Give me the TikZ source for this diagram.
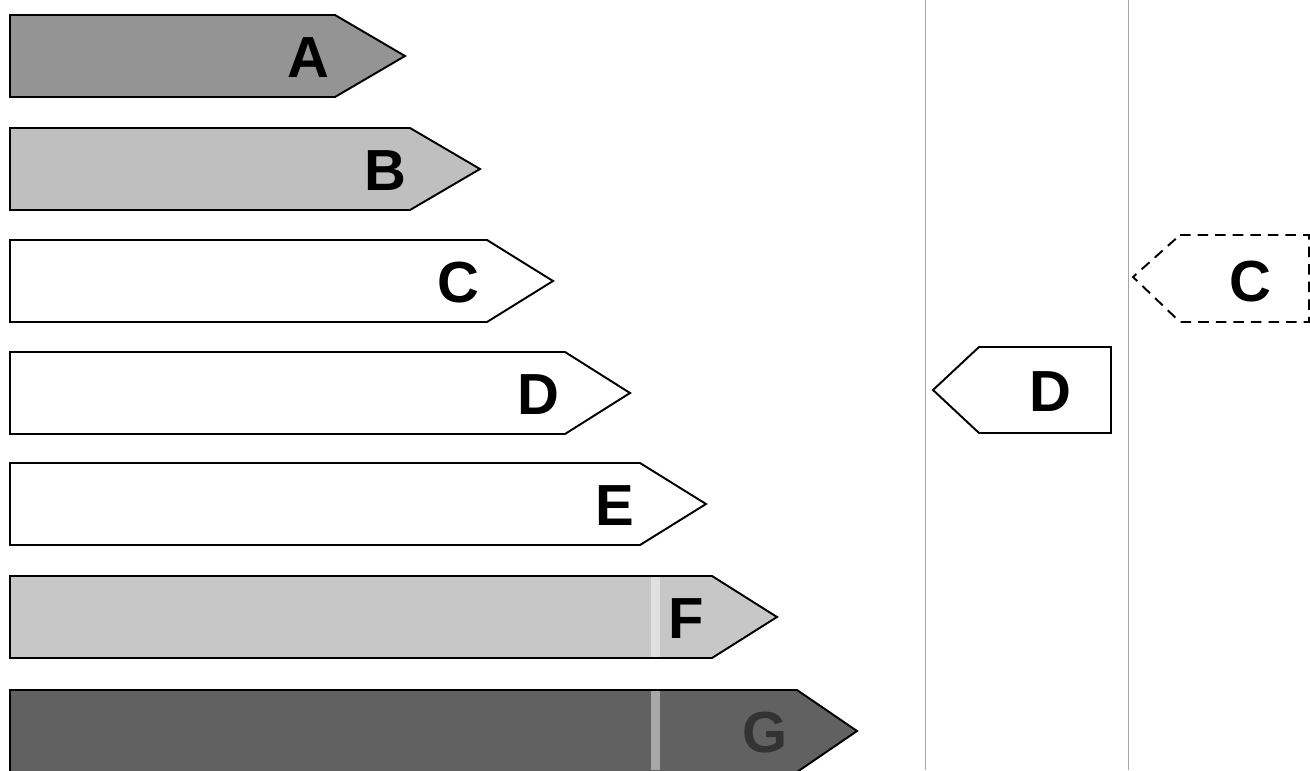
\documentclass[tikz,border=0pt]{standalone}
\usepackage{fontspec}
\setmainfont{Liberation Sans}
\begin{document}
\begin{tikzpicture}[x=0.02cm,y=-0.02cm,
  bar/.style={draw=black,line width=1.1pt,line join=miter},
  lettr/.style={font=\fontsize{33}{36}\selectfont\bfseries,inner sep=0pt,anchor=center},
  vline/.style={draw=black!35,line width=0.5pt},
  stripe/.style={fill=white,fill opacity=0.45,draw=none}]
\useasboundingbox (0,0) rectangle (1310,770);
% rating bars
\foreach \n/\t/\b/\tp/\col/\lx/\lc in {
  A/15/335/405/black!42/308/black,
  B/128/410/480/black!25/385/black,
  C/240/487/553/white/458/black,
  D/352/565/630/white/538/black,
  E/463/640/706/white/615/black,
  F/576/712/777/black!22/686/black,
  G/690/797/857/black!62/765/black!80}{
  \path[bar,fill=\col] (10,\t) -- (\b,\t) -- (\tp,\t+41) -- (\b,\t+82) -- (10,\t+82) -- cycle;
  \node[lettr,text=\lc] (lab\n) at (\lx,\t+43) {\n};
}
% scan stripe on F and G
\fill[stripe] (651,577) rectangle (660,657);
\fill[stripe] (651,691) rectangle (660,770);
% column separators
\draw[vline] (925,0) -- (925,770);
\draw[vline] (1128,0) -- (1128,770);
% current rating D
\path[bar] (933,390) -- (979,347) -- (1111,347) -- (1111,433) -- (979,433) -- cycle;
\node[lettr] (curD) at (1050,392) {D};
% potential rating C (dashed)
\path[draw=black,line width=1.1pt,dash pattern=on 6pt off 4pt] (1180,235) -- (1309,235) -- (1309,322) -- (1180,322) -- (1133,277) -- cycle;
\node[lettr] (potC) at (1250,282) {C};
\end{tikzpicture}
\end{document}
